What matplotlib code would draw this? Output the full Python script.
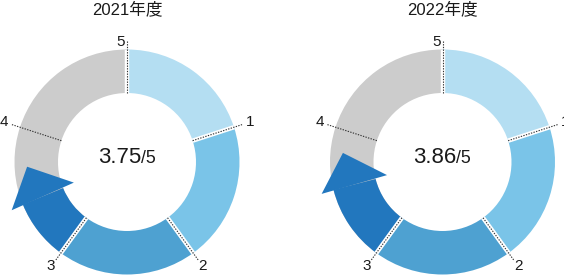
import numpy as np
import matplotlib
matplotlib.use('Agg')
import matplotlib.pyplot as plt
from matplotlib.patches import Wedge, Polygon

plt.rcParams['font.family'] = ['Liberation Sans', 'Noto Sans CJK JP', 'DejaVu Sans']

years = ['2021年度', '2022年度']
scores = [3.75, 3.86]
scale_max = 5
tick_labels = ['1', '2', '3', '4', '5']
seg_colors = ['#b4def2', '#7ac4e8', '#4ea1d1']
arrow_color = '#2277be'
rest_color = '#cccccc'

W, H = 564, 276
fig = plt.figure(figsize=(W / 100, H / 100), dpi=100)
ax = fig.add_axes([0, 0, 1, 1])
ax.set_xlim(0, W)
ax.set_ylim(0, H)
ax.set_aspect('equal')
ax.axis('off')

r_out, r_in = 112.5, 69
step = 360 / scale_max


def pt(cx, cy, r, a):
    # a: degrees clockwise from 12 o'clock
    t = np.radians(90 - a)
    return cx + r * np.cos(t), cy + r * np.sin(t)


def ring(cx, cy, a0, a1, color, z):
    ax.add_patch(Wedge((cx, cy), r_out, 90 - a1, 90 - a0, width=r_out - r_in,
                       facecolor=color, edgecolor='none', zorder=z))


centers = [(127, 114), (442.5, 114)]
for (cx, cy), year, score in zip(centers, years, scores):
    ax.text(cx, H - 9.5, year, ha='center', va='center', fontsize=12, color='#1a1a1a')

    # grey background for the remaining part, then the full segments
    ring(cx, cy, 3 * step, 360, rest_color, 1)
    full = int(score)
    for i in range(full):
        ring(cx, cy, i * step, (i + 1) * step, seg_colors[i], 2)

    # arrow for the partial part
    tip_a = score * step - 2.7
    base_a = tip_a - 20
    ring(cx, cy, full * step, base_a + 0.5, arrow_color, 3)
    head = [pt(cx, cy, 125, base_a), pt(cx, cy, 100, tip_a), pt(cx, cy, 57, base_a + 1.5)]
    ax.add_patch(Polygon(head, closed=True, facecolor=arrow_color, edgecolor='none', zorder=3))

    # boundaries, leader lines and labels
    for k, lab in enumerate(tick_labels):
        a = (k + 1) * step
        p0 = pt(cx, cy, r_in, a)
        p1 = pt(cx, cy, r_out, a)
        p2 = pt(cx, cy, 121, a)
        if lab != '4':
            ax.plot([p0[0], p1[0]], [p0[1], p1[1]], color='white', lw=3.2,
                    solid_capstyle='butt', zorder=4)
        ax.plot([p0[0], p2[0]], [p0[1], p2[1]], color='#333333', lw=0.8,
                ls=(0, (1.2, 1.2)), zorder=5)
        if lab == '5':
            lx, ly = cx - 6, cy + 120
        else:
            lx, ly = pt(cx, cy, 129, a)
        ax.text(lx, ly, lab, ha='center', va='center', fontsize=11, color='#1a1a1a', zorder=6)

    # centre value
    ax.text(cx + 14, cy - 1, f'{score:.2f}', ha='right', va='baseline', fontsize=16, color='#1a1a1a')
    ax.text(cx + 14, cy - 1, f'/{scale_max}', ha='left', va='baseline', fontsize=12.7, color='#1a1a1a')

fig.savefig('out.png', dpi=100, facecolor='white')
